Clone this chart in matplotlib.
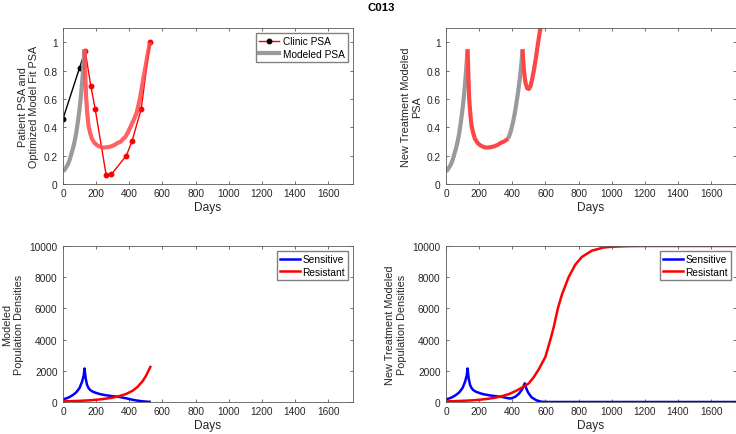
import matplotlib
matplotlib.use("Agg")
import matplotlib.pyplot as plt
from matplotlib.lines import Line2D

plt.rcParams['font.family'] = ['Liberation Sans', 'DejaVu Sans']

# -------------------------------
# DATA
# -------------------------------
# clinic PSA (patient measurements)
clinic_pre_days = [0, 100, 134]
clinic_pre_psa = [0.46, 0.82, 0.94]
clinic_days = [134, 168, 194, 260, 292, 382, 416, 472, 524]
clinic_psa = [0.94, 0.69, 0.53, 0.066, 0.068, 0.20, 0.30, 0.53, 1.0]

# modeled PSA, fitted
gray1_days = [0, 10, 20, 30, 40, 50, 60, 70, 80, 90, 100, 110, 120, 130]
gray1_psa = [0.09, 0.10, 0.12, 0.14, 0.17, 0.21, 0.25, 0.30, 0.36, 0.44,
             0.53, 0.64, 0.78, 0.95]
red1_days = [130, 135, 140, 147, 154, 164, 174, 190, 204, 220, 234, 250,
             270, 290, 310, 330, 350, 364, 375, 390, 410, 430, 444, 460,
             470, 484, 500, 510, 525]
red1_psa = [0.95, 0.76, 0.60, 0.49, 0.41, 0.36, 0.32, 0.29, 0.275, 0.265,
            0.258, 0.257, 0.26, 0.265, 0.275, 0.29, 0.30, 0.32, 0.33, 0.36,
            0.41, 0.46, 0.50, 0.58, 0.64, 0.74, 0.84, 0.91, 1.0]

# new treatment modeled PSA
new_red1_days = [130, 135, 140, 147, 154, 164, 174, 190, 204, 220, 234, 250,
                 270, 290, 310, 330, 350, 364, 375]
new_red1_psa = [0.95, 0.76, 0.60, 0.49, 0.41, 0.36, 0.32, 0.29, 0.275, 0.265,
                0.258, 0.257, 0.26, 0.265, 0.275, 0.29, 0.30, 0.31, 0.32]
new_gray2_days = [375, 385, 395, 405, 415, 425, 435, 445, 455, 462]
new_gray2_psa = [0.32, 0.35, 0.39, 0.44, 0.50, 0.57, 0.65, 0.74, 0.85, 0.95]
new_red2_days = [462, 470, 480, 490, 500, 510, 520, 530, 540, 550, 560, 570,
                 580, 590]
new_red2_psa = [0.95, 0.80, 0.71, 0.675, 0.67, 0.69, 0.74, 0.80, 0.87, 0.95,
                1.03, 1.10, 1.18, 1.26]

# modeled population densities
sens_days = [0, 20, 40, 60, 80, 100, 115, 125, 130, 137, 145, 155, 165, 180,
             200, 225, 260, 300, 340, 380, 420, 460, 500, 523]
sens_vals = [170, 230, 320, 450, 620, 900, 1300, 1700, 2150, 1500, 1100, 880,
             760, 660, 580, 500, 430, 370, 320, 240, 140, 70, 25, 10]
res_days = [0, 50, 100, 150, 200, 250, 300, 340, 380, 420, 450, 480, 500, 527]
res_vals = [40, 55, 75, 100, 140, 200, 280, 380, 510, 720, 970, 1330, 1660,
            2250]

# new treatment modeled population densities
new_sens_days = [0, 20, 40, 60, 80, 100, 115, 125, 130, 137, 145, 155, 165,
                 180, 200, 225, 260, 300, 340, 384, 400, 420, 440, 460, 475,
                 485, 496, 516, 547, 577, 620, 1750]
new_sens_vals = [170, 230, 320, 450, 620, 900, 1300, 1700, 2150, 1500, 1100,
                 880, 760, 660, 580, 500, 430, 370, 320, 220, 250, 350, 530,
                 820, 1200, 850, 600, 300, 100, 15, 0, 0]
new_res_days = [0, 50, 100, 150, 200, 250, 300, 340, 380, 420, 450, 475, 500,
                530, 560, 600, 630, 650, 675, 700, 740, 780, 820, 880, 950,
                1000, 1100, 1200, 1750]
new_res_vals = [40, 55, 75, 100, 140, 200, 280, 380, 510, 700, 870, 1020,
                1200, 1600, 2100, 2900, 4000, 4800, 6000, 6900, 8000, 8800,
                9300, 9700, 9900, 9950, 9990, 10000, 10000]

xticks = [0, 200, 400, 600, 800, 1000, 1200, 1400, 1600]
psa_ticks = [0, 0.2, 0.4, 0.6, 0.8, 1]
psa_labels = ["0", "0.2", "0.4", "0.6", "0.8", "1"]
pop_ticks = [0, 2000, 4000, 6000, 8000, 10000]

FS = 7.3
LFS = 7.8
AX_COLOR = "#5a5a5a"
MODEL_RED = "#ff4646"
MODEL_GRAY = "#9a9a9a"


def style_axes(ax, ymax, yticks, ylabels=None):
    ax.set_xlim(0, 1750)
    ax.set_ylim(0, ymax)
    ax.set_xticks(xticks)
    ax.set_yticks(yticks)
    if ylabels is not None:
        ax.set_yticklabels(ylabels)
    ax.tick_params(direction="in", length=2.5, width=0.6, top=True,
                   right=True, labelsize=FS, colors="#262626",
                   color=AX_COLOR)
    ax.tick_params(axis="x", pad=3)
    ax.tick_params(axis="y", pad=4)
    for s in ax.spines.values():
        s.set_color(AX_COLOR)
        s.set_linewidth(0.6)
    ax.set_xlabel("Days", fontsize=8.6, color="#262626", labelpad=2)


fig = plt.figure(figsize=(7.36, 4.35), dpi=100)

W = 0.394
H = 0.3586
ax1 = fig.add_axes([0.0856, 0.5747, W, H])
ax2 = fig.add_axes([0.606, 0.5747, W, H])
ax3 = fig.add_axes([0.0856, 0.0736, W, H])
ax4 = fig.add_axes([0.606, 0.0736, W, H])

# -------------------------------
# TOP LEFT: clinic vs fitted model
# -------------------------------
ax1.plot(clinic_pre_days, clinic_pre_psa, color="black", lw=1.0,
         marker="o", ms=3.2, markevery=[0, 1])
ax1.plot(clinic_days, clinic_psa, color="red", lw=1.0, marker="o", ms=3.2)
ax1.plot(gray1_days, gray1_psa, color=MODEL_GRAY, lw=3.0,
         solid_capstyle="butt")
ax1.plot(red1_days, red1_psa, color=MODEL_RED, lw=3.0, alpha=0.85,
         solid_capstyle="butt")
style_axes(ax1, 1.1, psa_ticks, psa_labels)
ax1.set_ylabel("Patient PSA and\nOptimized Model Fit PSA", fontsize=LFS,
               color="#262626", labelpad=3)
handles = [Line2D([], [], color="red", lw=1.0, marker="o", ms=3.2,
                  mfc="black", mec="black"),
           Line2D([], [], color=MODEL_GRAY, lw=3.0)]
ax1.legend(handles, ["Clinic PSA", "Modeled PSA"], loc="upper right",
           fontsize=FS, fancybox=False, framealpha=1, edgecolor="#808080",
           handlelength=2.0, borderaxespad=0.5, borderpad=0.3,
           labelspacing=0.25, handletextpad=0.4)

# -------------------------------
# TOP RIGHT: new treatment PSA
# -------------------------------
ax2.plot(gray1_days, gray1_psa, color=MODEL_GRAY, lw=3.0,
         solid_capstyle="butt")
ax2.plot(new_red1_days, new_red1_psa, color=MODEL_RED, lw=3.0,
         solid_capstyle="butt")
ax2.plot(new_gray2_days, new_gray2_psa, color=MODEL_GRAY, lw=3.0,
         solid_capstyle="butt")
ax2.plot(new_red2_days, new_red2_psa, color=MODEL_RED, lw=3.0,
         solid_capstyle="butt")
style_axes(ax2, 1.1, psa_ticks, psa_labels)
ax2.set_ylabel("New Treatment Modeled\nPSA", fontsize=LFS,
               color="#262626", labelpad=3)

# -------------------------------
# BOTTOM: population densities
# -------------------------------
ax3.plot(sens_days, sens_vals, color="blue", lw=1.8, label="Sensitive")
ax3.plot(res_days, res_vals, color="red", lw=1.8, label="Resistant")
style_axes(ax3, 10000, pop_ticks)
ax3.set_ylabel("Modeled\nPopulation Densities", fontsize=LFS,
               color="#262626", labelpad=4)

ax4.plot(new_sens_days, new_sens_vals, color="blue", lw=1.8,
         label="Sensitive")
ax4.plot(new_res_days, new_res_vals, color="red", lw=1.8, label="Resistant")
style_axes(ax4, 10000, pop_ticks)
ax4.set_ylabel("New Treatment Modeled\nPopulation Densities", fontsize=LFS,
               color="#262626", labelpad=4)

for ax in (ax3, ax4):
    ax.legend(loc="upper right", fontsize=FS, fancybox=False, framealpha=1,
              edgecolor="#808080", handlelength=2.0, borderaxespad=0.5,
              borderpad=0.3, labelspacing=0.25, handletextpad=0.2)

fig.text(0.518, 0.982, "C013", ha="center", va="center", fontsize=8.2,
         fontweight="bold")

plt.savefig("out.png", dpi=100)
plt.close()
